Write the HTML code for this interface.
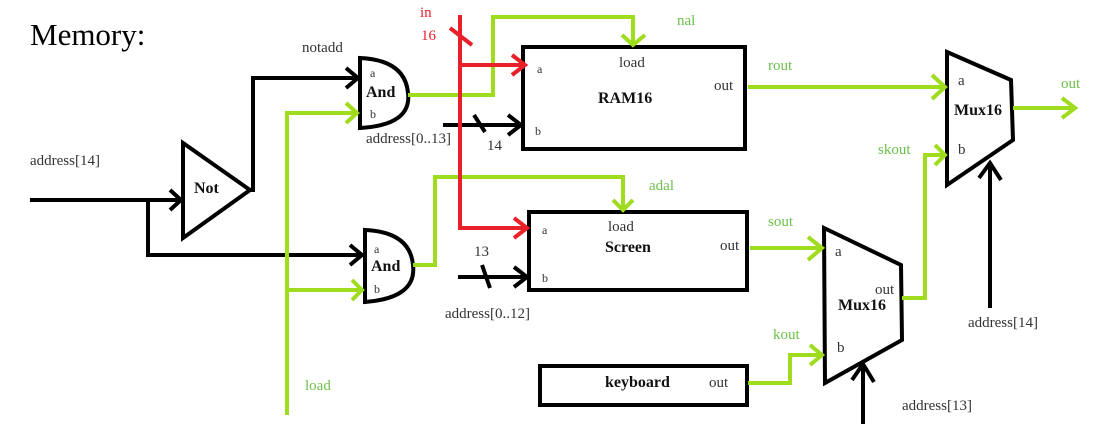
<!DOCTYPE html>
<html><head><style>
body{margin:0;background:#fff}
svg{display:block}
text{font-family:"Liberation Serif",serif}
</style></head><body>
<svg width="1108" height="424" viewBox="0 0 1108 424" xmlns="http://www.w3.org/2000/svg">
<rect width="1108" height="424" fill="#fff"/>
<text x="30" y="45" font-size="31" fill="#000">Memory:</text>
<g fill="none" stroke-width="4" stroke-linejoin="miter">
<!-- black wires -->
<g stroke="#000">
<path d="M30 200 H180 M170 190 L181 200 L170 210"/>
<path d="M148 200 V255 H362 M350 245 L362 255 L350 265"/>
<path d="M250 190 H253 V78 H358 M346 68 L358 78 L346 88"/>
<path d="M183 143 V238 L250 190 Z"/>
<path d="M360 58 V128 Q412 125 408 93 Q405 60 360 58 Z"/>
<path d="M365 230 V302 Q417 298 413 265 Q410 232 365 230 Z"/>
<rect x="523" y="47" width="222" height="102"/>
<rect x="529" y="212" width="218" height="78"/>
<rect x="540" y="366" width="207" height="39"/>
<path d="M947 52 L1011 80 L1013 140 L947 185 Z"/>
<path d="M824 228 L901 265 L902 340 L825 383 Z"/>
<path d="M443 125 H521 M508 115 L521 125 L508 135 M474 115 L485 132"/>
<path d="M458 277 H527 M514 267 L527 277 L514 287 M482 265 L490 288"/>
<path d="M990 308 V163 M979 178 L990 163 L1001 180"/>
<path d="M863 424 V364 M852 380 L863 364 L874 382"/>
</g>
<!-- green wires -->
<g stroke="#9fdc1e">
<path d="M287 415 V113 H357 M346 103 L357 113 L346 123"/>
<path d="M287 290 H362 M352 280 L362 290 L352 300"/>
<path d="M408 95 H493 V17 H633 V45 M622 35 L633 45 L645 35"/>
<path d="M413 265 H435 V177 H623 V210 M613 200 L623 210 L633 200"/>
<path d="M748 87 H945 M932 75 L945 87 L932 99"/>
<path d="M1013 108 H1075 M1062 98 L1075 108 L1062 118"/>
<path d="M750 248 H822 M808 237 L822 248 L808 260"/>
<path d="M748 383 H790 V355 H822 M810 345 L822 355 L810 365"/>
<path d="M902 298 H925 V155 H945 M935 145 L945 155 L935 165"/>
</g>
<!-- red wires -->
<g stroke="#e8202a">
<path d="M460 15 V228 H527 M514 218 L527 228 L514 238"/>
<path d="M460 65 H525 M512 55 L525 65 L512 75"/>
<path d="M450 28 L472 45"/>
</g>
</g>
<g font-size="15" fill="#333">
<text x="302" y="52">notadd</text>
<text x="30" y="165">address[14]</text>
<text x="366" y="143">address[0..13]</text>
<text x="487" y="150">14</text>
<text x="474" y="256">13</text>
<text x="445" y="318">address[0..12]</text>
<text x="968" y="327">address[14]</text>
<text x="902" y="410">address[13]</text>
<text x="714" y="90">out</text>
<text x="720" y="250">out</text>
<text x="709" y="387">out</text>
<text x="875" y="294">out</text>
<text x="619" y="67">load</text>
<text x="608" y="231">load</text>
<text x="537" y="73" font-size="12">a</text>
<text x="535" y="135" font-size="12">b</text>
<text x="542" y="234" font-size="12">a</text>
<text x="542" y="282" font-size="12">b</text>
<text x="370" y="77" font-size="12">a</text>
<text x="370" y="118" font-size="12">b</text>
<text x="374" y="253" font-size="12">a</text>
<text x="374" y="293" font-size="12">b</text>
<text x="958" y="85">a</text>
<text x="958" y="154">b</text>
<text x="835" y="256">a</text>
<text x="837" y="352">b</text>
</g>
<g font-size="16" font-weight="bold" fill="#111">
<text x="194" y="193">Not</text>
<text x="366" y="97">And</text>
<text x="371" y="271">And</text>
<text x="598" y="103">RAM16</text>
<text x="605" y="252">Screen</text>
<text x="605" y="387">keyboard</text>
<text x="954" y="115">Mux16</text>
<text x="838" y="310">Mux16</text>
</g>
<g font-size="15" fill="#6cc04a">
<text x="305" y="390">load</text>
<text x="677" y="25">nal</text>
<text x="649" y="190">adal</text>
<text x="768" y="70">rout</text>
<text x="1061" y="88">out</text>
<text x="878" y="154">skout</text>
<text x="768" y="226">sout</text>
<text x="773" y="339">kout</text>
</g>
<g font-size="15" fill="#e8202a">
<text x="420" y="17">in</text>
<text x="421" y="40">16</text>
</g>
</svg>
</body></html>
